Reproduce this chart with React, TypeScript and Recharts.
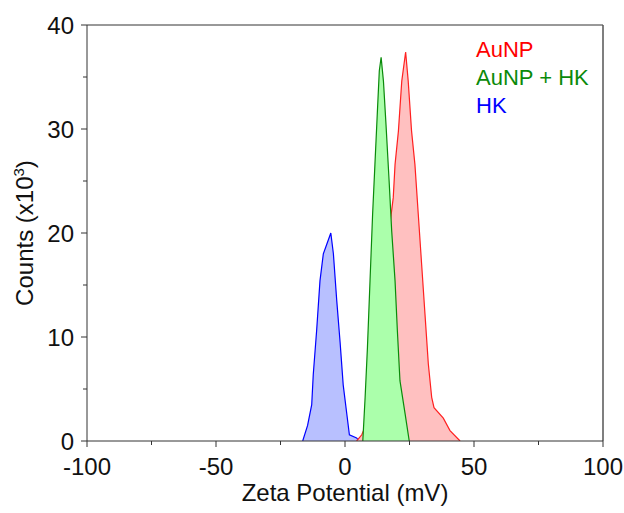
import { Area, AreaChart, Label, ReferenceLine, XAxis, YAxis } from "recharts";

// zeta potential (mV) and counts (x10^3)
const hkX = [-16.4, -14.5, -12.9, -12.3, -11.0, -9.7, -8.4, -7.1, -5.5, -4.5, -3.2, -1.9, -0.7, 0.7, 1.7, 4.5, 5.5];
const hkY = [0, 1.5, 3.5, 6.4, 10.6, 15.4, 18.0, 18.9, 20.0, 18.0, 13.5, 9.5, 5.4, 2.6, 0.6, 0.3, 0];

const aunpX = [4.5, 5.5, 6.5, 8.0, 10, 12, 14, 16, 17.5, 18.7, 19.4, 20.7, 22.0, 23.5, 24.5, 25.8, 27.1, 28.4, 29.7, 31.0, 32.3, 33.6, 34.5, 38.1, 40.7, 44.6];
const aunpY = [0, 0.3, 0.6, 1.5, 4.5, 9.5, 14.5, 18.5, 21, 23.4, 26.6, 29.8, 34.6, 37.4, 34.6, 29.8, 26.6, 21.8, 17.0, 12.2, 7.4, 4.2, 3.2, 2.2, 1.0, 0];

const mixX = [6.9, 7.8, 8.7, 9.7, 10.7, 11.6, 12.5, 13.3, 14.0, 14.9, 15.9, 17.1, 18.1, 19.4, 20.3, 21.3, 23.3, 24.9];
const mixY = [0, 4.2, 9.0, 15.4, 21.8, 26.6, 31.4, 35.6, 36.9, 34.6, 30.4, 25.0, 20.2, 15.4, 10.6, 5.8, 2.6, 0];

const xTicks = [-100, -75, -50, -25, 0, 25, 50, 75, 100];
const yTicks = [0, 5, 10, 15, 20, 25, 30, 35, 40];

const legendItems = [
  { name: "AuNP", color: "#ff0000" },
  { name: "AuNP + HK", color: "#0a8a0a" },
  { name: "HK", color: "#0000ff" },
];

// one table keyed by x; each series fills only its own column
type Row = { x: number; hk?: number; aunp?: number; mix?: number };
const rowMap = new Map<number, Row>();
const put = (xs: number[], ys: number[], key: "hk" | "aunp" | "mix") => {
  xs.forEach((x, i) => {
    const row = rowMap.get(x) ?? { x };
    row[key] = ys[i];
    rowMap.set(x, row);
  });
};
put(hkX, hkY, "hk");
put(aunpX, aunpY, "aunp");
put(mixX, mixY, "mix");
const data = Array.from(rowMap.values()).sort((a, b) => a.x - b.x);

const FONT = "Arial, 'Liberation Sans', sans-serif";
const AXIS = "#333";

function XTick({ x, y, payload }: any) {
  const major = payload.value % 50 === 0;
  return (
    <g>
      <line x1={x} y1={y} x2={x} y2={y + (major ? 6 : 4)} stroke={AXIS} />
      {major && (
        <text x={x} y={y + 34} textAnchor="middle" fontSize={24} fill="#111" fontFamily={FONT}>
          {payload.value}
        </text>
      )}
    </g>
  );
}

function YTick({ x, y, payload }: any) {
  const major = payload.value % 10 === 0;
  return (
    <g>
      <line x1={x} y1={y} x2={x - (major ? 6 : 4)} y2={y} stroke={AXIS} />
      {major && (
        <text x={x - 13} y={y + 9} textAnchor="end" fontSize={24} fill="#111" fontFamily={FONT}>
          {payload.value}
        </text>
      )}
    </g>
  );
}

export default function App() {
  return (
    <div style={{ position: "absolute", left: 0, top: 0, background: "#fff" }}>
      <AreaChart width={624} height={513} data={data} margin={{ top: 25, right: 21, bottom: 0, left: 0 }}>
        <XAxis
          dataKey="x"
          type="number"
          domain={[-100, 100]}
          ticks={xTicks}
          allowDataOverflow
          height={72}
          tickSize={0}
          tickMargin={0}
          tickLine={false}
          tick={<XTick />}
          axisLine={{ stroke: AXIS }}
        >
          <Label
            content={() => (
              <text x={345} y={501} textAnchor="middle" fontSize={24} fill="#111" fontFamily={FONT}>
                Zeta Potential (mV)
              </text>
            )}
          />
        </XAxis>
        <YAxis
          type="number"
          domain={[0, 40]}
          ticks={yTicks}
          allowDataOverflow
          width={87}
          tickSize={0}
          tickMargin={0}
          tickLine={false}
          tick={<YTick />}
          axisLine={{ stroke: AXIS }}
        >
          <Label
            content={() => (
              <text
                x={33}
                y={233}
                transform="rotate(-90 33 233)"
                textAnchor="middle"
                fontSize={24}
                fill="#111"
                fontFamily={FONT}
              >
                Counts (x10
                <tspan dy={-9} fontSize={15}>3</tspan>
                <tspan dy={9}>)</tspan>
              </text>
            )}
          />
        </YAxis>
        <ReferenceLine y={40} stroke={AXIS} />
        <ReferenceLine x={100} stroke="#555" strokeWidth={1.5}>
          <Label
            content={() => (
              <g fontFamily={FONT} fontSize={22}>
                {legendItems.map((it, i) => (
                  <text key={it.name} x={476} y={57 + i * 28} fill={it.color}>
                    {it.name}
                  </text>
                ))}
              </g>
            )}
          />
        </ReferenceLine>
        <Area
          type="linear"
          dataKey="hk"
          connectNulls
          stroke="#0000ff"
          strokeWidth={1.2}
          fill="#b8c0ff"
          fillOpacity={1}
          isAnimationActive={false}
        />
        <Area
          type="linear"
          dataKey="aunp"
          connectNulls
          stroke="#ff2020"
          strokeWidth={1.2}
          fill="#ffc0c0"
          fillOpacity={1}
          isAnimationActive={false}
        />
        <Area
          type="linear"
          dataKey="mix"
          connectNulls
          stroke="#0a8a0a"
          strokeWidth={1.2}
          fill="#abffab"
          fillOpacity={1}
          isAnimationActive={false}
        />
      </AreaChart>
    </div>
  );
}
